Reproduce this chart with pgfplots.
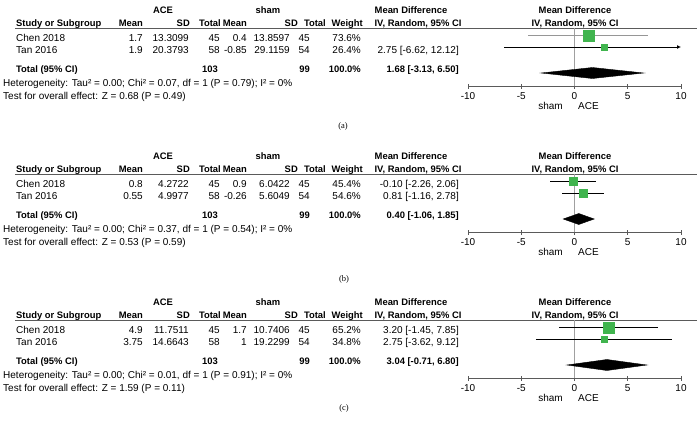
\documentclass[border=0pt]{standalone}
\usepackage{fontspec}
\setmainfont{Liberation Sans}
\newfontfamily\capfont{Liberation Serif}
\usepackage{pgfplots}
\pgfplotsset{compat=1.18}
\usetikzlibrary{arrows.meta}

\definecolor{boxgreen}{RGB}{64,180,78}
\definecolor{zerogray}{RGB}{160,160,160}
\definecolor{cigray}{RGB}{150,150,150}
\definecolor{axgray}{RGB}{90,90,90}

\pgfplotsset{forest/.style={
  scale only axis, width=213bp, height=58bp,
  anchor=south west, at={(468bp,-86bp)},
  xmin=-10, xmax=10, ymin=-86, ymax=-28,
  axis x line=bottom, axis y line=none,
  x axis line style={-, draw=axgray, line width=0.8bp},
  xtick={-10,-5,0,5,10}, xtick align=center,
  major tick length=5bp,
  every tick/.style={draw=axgray, line width=0.8bp},
  ticklabel style={font=\fontsize{10bp}{12bp}\selectfont, inner sep=1bp},
  xticklabel style={yshift=-2.5bp},
  /pgf/number format/assume math mode=true,
  clip=false,
}}

\newcommand\header{%
  \node[C,font=\tb] at (163bp,-13.5bp) {ACE};
  \node[C,font=\tb] at (268bp,-13.5bp) {sham};
  \node[C,font=\tb] at (411bp,-13.5bp) {Mean Difference};
  \node[C,font=\tb] at (575bp,-13.5bp) {Mean Difference};
  \node[L,font=\tb] at (16bp,-26.5bp) {Study or Subgroup};
  \node[R,font=\tb] at (143bp,-26.5bp) {Mean};
  \node[R,font=\tb] at (190bp,-26.5bp) {SD};
  \node[R,font=\tb] at (221bp,-26.5bp) {Total};
  \node[R,font=\tb] at (247bp,-26.5bp) {Mean};
  \node[R,font=\tb] at (298bp,-26.5bp) {SD};
  \node[R,font=\tb] at (326bp,-26.5bp) {Total};
  \node[R,font=\tb] at (363bp,-26.5bp) {Weight};
  \node[C,font=\tb] at (418bp,-26.5bp) {IV, Random, 95\% CI};
  \node[C,font=\tb] at (575bp,-26.5bp) {IV, Random, 95\% CI};
  \draw[axgray, line width=0.8bp] (15bp,-28bp) -- (697bp,-28bp);
  \node[L,font=\tb] at (16bp,-72.5bp) {Total (95\% CI)};
  \node[R,font=\tb] at (218bp,-72.5bp) {103};
  \node[R,font=\tb] at (310bp,-72.5bp) {99};
  \node[R,font=\tb] at (361bp,-72.5bp) {100.0\%};
  \node[R,font=\tr] at (563bp,-109bp) {sham};
  \node[L,font=\tr] at (578bp,-109bp) {ACE};
}
% study row: y, name, mean1, sd1, n1, mean2, sd2, n2, weight
\newcommand\study[9]{%
  \node[L,font=\tr] at (16bp,-#1bp) {#2};
  \node[R,font=\tr] at (143bp,-#1bp) {#3};
  \node[R,font=\tr] at (189bp,-#1bp) {#4};
  \node[R,font=\tr] at (220bp,-#1bp) {#5};
  \node[R,font=\tr] at (247bp,-#1bp) {#6};
  \node[R,font=\tr] at (290bp,-#1bp) {#7};
  \node[R,font=\tr] at (310bp,-#1bp) {#8};
  \node[R,font=\tr] at (361bp,-#1bp) {#9};
}

\begin{document}
\begin{tikzpicture}[
  L/.style={anchor=base west, inner sep=0},
  R/.style={anchor=base east, inner sep=0},
  C/.style={anchor=base, inner sep=0}]
\def\tr{\fontsize{10bp}{12bp}\selectfont}
\def\tb{\fontsize{9.4bp}{11bp}\selectfont\bfseries}
\path[use as bounding box] (0,0) rectangle (697bp,-448bp);

% ---------------- (a)
\header
\study{41.5}{Chen 2018}{1.7}{13.3099}{45}{0.4}{13.8597}{45}{73.6\%}
\study{53}{Tan 2016}{1.9}{20.3793}{58}{-0.85}{29.1159}{54}{26.4\%}
\node[R,font=\tr] at (459bp,-53bp) {2.75 [-6.62, 12.12]};
\node[R,font=\tb] at (459bp,-72.5bp) {1.68 [-3.13, 6.50]};
\node[L,font=\tr] at (3bp,-86bp) {Heterogeneity: Tau² = 0.00; Chi² = 0.07, df = 1 (P = 0.79); I² = 0\%};
\node[L,font=\tr] at (3bp,-99bp) {Test for overall effect: Z = 0.68 (P = 0.49)};
\node[C,font=\capfont\fontsize{8.5bp}{10bp}\selectfont] at (343bp,-128bp) {(a)};
\begin{axis}[forest]
\addplot[zerogray, line width=1.2bp] coordinates {(0,-28) (0,-86)};
\addplot[cigray, line width=0.8bp] coordinates {(-4.32,-35.5) (6.92,-35.5)};
\addplot[black, line width=0.8bp, -{Latex[length=4bp,width=4bp]}] coordinates {(-6.62,-47) (10,-47)};
\addplot[only marks, mark=square*, mark size=5.5bp, boxgreen] coordinates {(1.30,-35.5)};
\addplot[only marks, mark=square*, mark size=3bp, boxgreen] coordinates {(2.75,-47)};
\addplot[fill=black, draw=black] coordinates {(-3.13,-73) (1.68,-67.5) (6.50,-73) (1.68,-78.5)} -- cycle;
\end{axis}

% ---------------- (b)
\begin{scope}[yshift=-146bp]
\header
\study{41.5}{Chen 2018}{0.8}{4.2722}{45}{0.9}{6.0422}{45}{45.4\%}
\study{53}{Tan 2016}{0.55}{4.9977}{58}{-0.26}{5.6049}{54}{54.6\%}
\node[R,font=\tr] at (459bp,-41.5bp) {-0.10 [-2.26, 2.06]};
\node[R,font=\tr] at (459bp,-53bp) {0.81 [-1.16, 2.78]};
\node[R,font=\tb] at (459bp,-72.5bp) {0.40 [-1.06, 1.85]};
\node[L,font=\tr] at (3bp,-86bp) {Heterogeneity: Tau² = 0.00; Chi² = 0.37, df = 1 (P = 0.54); I² = 0\%};
\node[L,font=\tr] at (3bp,-99bp) {Test for overall effect: Z = 0.53 (P = 0.59)};
\node[C,font=\capfont\fontsize{8.5bp}{10bp}\selectfont] at (344bp,-135bp) {(b)};
\begin{axis}[forest]
\addplot[zerogray, line width=1.2bp] coordinates {(0,-28) (0,-86)};
\addplot[black, line width=0.8bp] coordinates {(-2.26,-35.5) (2.06,-35.5)};
\addplot[black, line width=0.8bp] coordinates {(-1.16,-47) (2.78,-47)};
\addplot[only marks, mark=square*, mark size=4bp, boxgreen] coordinates {(-0.10,-35.5)};
\addplot[only marks, mark=square*, mark size=4.3bp, boxgreen] coordinates {(0.81,-47)};
\addplot[fill=black, draw=black] coordinates {(-1.06,-73) (0.40,-67.5) (1.85,-73) (0.40,-78.5)} -- cycle;
\end{axis}
\end{scope}

% ---------------- (c)
\begin{scope}[yshift=-292bp]
\header
\study{41.5}{Chen 2018}{4.9}{11.7511}{45}{1.7}{10.7406}{45}{65.2\%}
\study{53}{Tan 2016}{3.75}{14.6643}{58}{1}{19.2299}{54}{34.8\%}
\node[R,font=\tr] at (459bp,-41.5bp) {3.20 [-1.45, 7.85]};
\node[R,font=\tr] at (459bp,-53bp) {2.75 [-3.62, 9.12]};
\node[R,font=\tb] at (459bp,-72.5bp) {3.04 [-0.71, 6.80]};
\node[L,font=\tr] at (3bp,-86bp) {Heterogeneity: Tau² = 0.00; Chi² = 0.01, df = 1 (P = 0.91); I² = 0\%};
\node[L,font=\tr] at (3bp,-99bp) {Test for overall effect: Z = 1.59 (P = 0.11)};
\node[C,font=\capfont\fontsize{8.5bp}{10bp}\selectfont] at (344bp,-118bp) {(c)};
\begin{axis}[forest]
\addplot[zerogray, line width=1.2bp] coordinates {(0,-28) (0,-86)};
\addplot[black, line width=0.8bp] coordinates {(-1.45,-35.5) (7.85,-35.5)};
\addplot[black, line width=0.8bp] coordinates {(-3.62,-47) (9.12,-47)};
\addplot[only marks, mark=square*, mark size=5.25bp, boxgreen] coordinates {(3.20,-35.5)};
\addplot[only marks, mark=square*, mark size=3bp, boxgreen] coordinates {(2.75,-47)};
\addplot[fill=black, draw=black] coordinates {(-0.71,-73) (3.04,-67.5) (6.80,-73) (3.04,-78.5)} -- cycle;
\end{axis}
\end{scope}
\end{tikzpicture}
\end{document}
